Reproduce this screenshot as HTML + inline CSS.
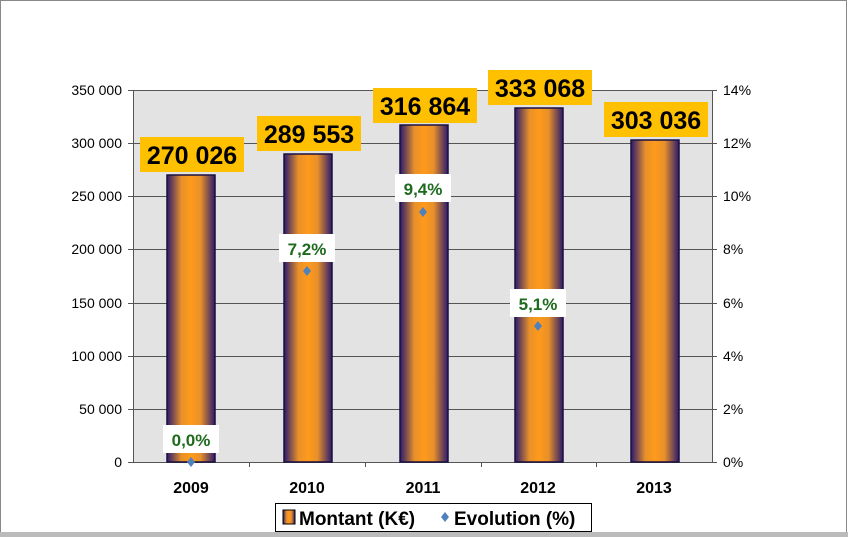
<!DOCTYPE html>
<html><head><meta charset="utf-8"><style>
html,body{margin:0;padding:0;background:#fff}
svg{display:block}
text{font-family:"Liberation Sans",Arial,sans-serif}
</style></head><body>
<svg width="848" height="537" viewBox="0 0 848 537">
<defs>
<linearGradient id="g" x1="0" x2="1" y1="0" y2="0">
<stop offset="0" stop-color="#2a1a6e"/>
<stop offset="0.3" stop-color="#e8902a"/>
<stop offset="0.5" stop-color="#ff9a1a"/>
<stop offset="0.7" stop-color="#e8902a"/>
<stop offset="1" stop-color="#2a1a6e"/>
</linearGradient>
</defs>
<rect x="0.5" y="0.5" width="846" height="535" fill="#fff" stroke="#888" stroke-width="1"/>
<rect x="0" y="532" width="848" height="5" fill="#bbb"/>
<rect x="133" y="90" width="579" height="372" fill="#e3e3e3"/>
<g stroke="#555" stroke-width="1">
<line x1="133" x2="712" y1="90.5" y2="90.5"/>
<line x1="133" x2="712" y1="143.5" y2="143.5"/>
<line x1="133" x2="712" y1="196.5" y2="196.5"/>
<line x1="133" x2="712" y1="249.5" y2="249.5"/>
<line x1="133" x2="712" y1="303.5" y2="303.5"/>
<line x1="133" x2="712" y1="356.5" y2="356.5"/>
<line x1="133" x2="712" y1="409.5" y2="409.5"/>
<line x1="133" x2="712" y1="462.5" y2="462.5"/>
<line x1="133.5" x2="133.5" y1="90" y2="462"/>
<line x1="712.5" x2="712.5" y1="90" y2="462"/>
</g>
<g stroke="#555">
<line x1="128" x2="133" y1="90.5" y2="90.5"/><line x1="128" x2="133" y1="143.5" y2="143.5"/><line x1="128" x2="133" y1="196.5" y2="196.5"/><line x1="128" x2="133" y1="249.5" y2="249.5"/><line x1="128" x2="133" y1="303.5" y2="303.5"/><line x1="128" x2="133" y1="356.5" y2="356.5"/><line x1="128" x2="133" y1="409.5" y2="409.5"/><line x1="128" x2="133" y1="462.5" y2="462.5"/>
<line x1="712" x2="717" y1="90.5" y2="90.5"/><line x1="712" x2="717" y1="143.5" y2="143.5"/><line x1="712" x2="717" y1="196.5" y2="196.5"/><line x1="712" x2="717" y1="249.5" y2="249.5"/><line x1="712" x2="717" y1="303.5" y2="303.5"/><line x1="712" x2="717" y1="356.5" y2="356.5"/><line x1="712" x2="717" y1="409.5" y2="409.5"/><line x1="712" x2="717" y1="462.5" y2="462.5"/>
<line x1="249.5" x2="249.5" y1="462" y2="467"/><line x1="365.5" x2="365.5" y1="462" y2="467"/><line x1="481.5" x2="481.5" y1="462" y2="467"/><line x1="596.5" x2="596.5" y1="462" y2="467"/>
</g>
<g font-size="14" text-anchor="end" fill="#000">
<text x="122" y="95">350 000</text><text x="122" y="148">300 000</text><text x="122" y="201">250 000</text><text x="122" y="254">200 000</text><text x="122" y="308">150 000</text><text x="122" y="361">100 000</text><text x="122" y="414">50 000</text><text x="122" y="467">0</text>
</g>
<g font-size="14" text-anchor="start" fill="#000">
<text x="723" y="95">14%</text><text x="723" y="148">12%</text><text x="723" y="201">10%</text><text x="723" y="254">8%</text><text x="723" y="308">6%</text><text x="723" y="361">4%</text><text x="723" y="414">2%</text><text x="723" y="467">0%</text>
</g>
<g fill="url(#g)" stroke="#1a1040" stroke-width="1.5">
<rect x="167" y="175" width="48" height="287"/>
<rect x="284" y="154" width="48" height="308"/>
<rect x="400" y="125" width="48" height="337"/>
<rect x="515" y="108" width="48" height="354"/>
<rect x="631" y="140" width="48" height="322"/>
</g>
<g font-size="16" font-weight="bold" text-anchor="middle" fill="#000">
<text x="191" y="493">2009</text><text x="307" y="493">2010</text><text x="423" y="493">2011</text><text x="538" y="493">2012</text><text x="654" y="493">2013</text>
</g>
<g fill="#ffc000">
<rect x="140" y="137" width="104" height="35"/>
<rect x="257" y="116" width="104" height="35"/>
<rect x="373" y="88" width="104" height="35"/>
<rect x="488" y="70" width="104" height="35"/>
<rect x="604" y="102" width="104" height="35"/>
</g>
<g font-size="25" font-weight="bold" text-anchor="middle" fill="#000">
<text x="192" y="164">270 026</text>
<text x="309" y="143">289 553</text>
<text x="425" y="115">316 864</text>
<text x="540" y="97">333 068</text>
<text x="656" y="129">303 036</text>
</g>
<g fill="#fff">
<rect x="163" y="425" width="56" height="28"/>
<rect x="279" y="234" width="56" height="28"/>
<rect x="395" y="174" width="56" height="28"/>
<rect x="510" y="289" width="56" height="28"/>
</g>
<g font-size="17" font-weight="bold" text-anchor="middle" fill="#1e6b1e">
<text x="191" y="446">0,0%</text>
<text x="307" y="255">7,2%</text>
<text x="423" y="195">9,4%</text>
<text x="538" y="310">5,1%</text>
</g>
<g fill="#4f81bd">
<path d="M191 457l4 5-4 5-4-5z"/>
<path d="M307 266l4 5-4 5-4-5z"/>
<path d="M423 207l4 5-4 5-4-5z"/>
<path d="M538 321l4 5-4 5-4-5z"/>
</g>
<rect x="275.5" y="503.5" width="316" height="28" fill="#fff" stroke="#000"/>
<rect x="283" y="510" width="12" height="14" fill="url(#g)" stroke="#000"/>
<text x="299" y="525" font-size="19" font-weight="bold">Montant (K€)</text>
<path d="M445 512l4 5-4 5-4-5z" fill="#4f81bd"/>
<text x="454" y="525" font-size="19" font-weight="bold">Evolution (%)</text>
</svg>
</body></html>
